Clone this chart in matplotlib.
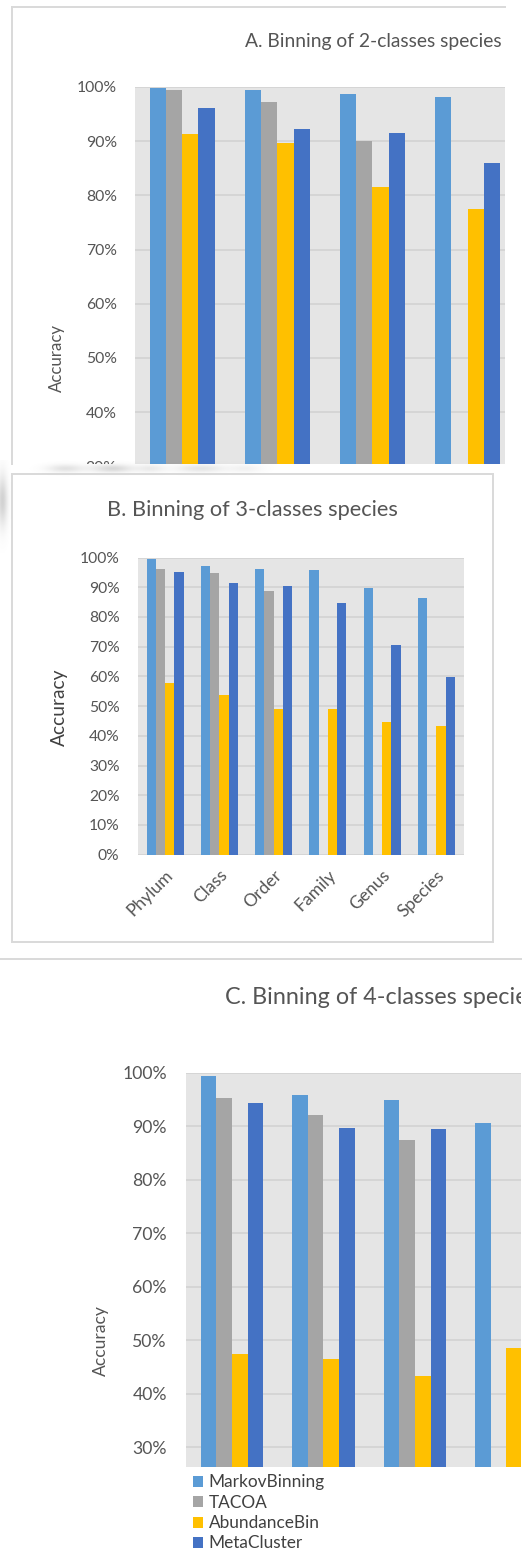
import numpy as np
import matplotlib
matplotlib.use('Agg')
import matplotlib.pyplot as plt
from matplotlib.patches import Rectangle
from matplotlib.lines import Line2D

nan = np.nan

series = ['MarkovBinning', 'TACOA', 'AbundanceBin', 'MetaCluster']
colors = ['#5b9bd5', '#a5a5a5', '#ffc000', '#4472c4']
ranks = ['Phylum', 'Class', 'Order', 'Family', 'Genus', 'Species']

# A. 2-classes species (accuracy, %)
a_markov = [99.8, 99.5, 98.7, 98.2]
a_tacoa = [99.5, 97.2, 90.0, nan]
a_abund = [91.3, 89.6, 81.6, 77.5]
a_meta = [96.1, 92.2, 91.5, 85.9]

# B. 3-classes species
b_markov = [99.5, 97.1, 96.1, 95.8, 89.6, 86.3]
b_tacoa = [96.1, 94.8, 88.7, nan, nan, nan]
b_abund = [57.7, 53.6, 49.0, 48.9, 44.6, 43.3]
b_meta = [95.1, 91.3, 90.6, 84.6, 70.5, 59.8]

# C. 4-classes species
c_markov = [99.3, 95.9, 94.8, 90.5]
c_tacoa = [95.3, 92.1, 87.4, nan]
c_abund = [47.5, 46.5, 43.3, 48.5]
c_meta = [94.3, 89.7, 89.4, nan]

W, H = 528, 1551
GRAY_TXT = '#555555'
FRAME = '#d9d9d9'
plt.rcParams['font.family'] = ['Lato', 'DejaVu Sans']

fig = plt.figure(figsize=(W / 100, H / 100), dpi=100)
renderer = fig.canvas.get_renderer()


def fx(x):
    return x / W


def fy(y):
    return 1 - y / H


def box(l, t, r, b):
    return [l / W, 1 - b / H, (r - l) / W, (b - t) / H]


def fit(text, target_px, **kw):
    t = fig.text(0, 0, text, fontsize=20, **kw)
    w = t.get_window_extent(renderer).width
    t.remove()
    return 20 * target_px / w


def hline(x0, x1, y, **kw):
    fig.add_artist(Line2D([fx(x0), fx(x1)], [fy(y), fy(y)], transform=fig.transFigure, **kw))


def vline(x, y0, y1, **kw):
    fig.add_artist(Line2D([fx(x), fx(x)], [fy(y0), fy(y1)], transform=fig.transFigure, **kw))


def panel(rect, data, ylim, xmax, tick_fs, pad):
    ax = fig.add_axes(rect)
    ax.set_facecolor('#e5e5e5')
    bw = 0.17
    x = np.arange(len(data[0]))
    bars = []
    for i, vals in enumerate(data):
        v = np.array(vals, dtype=float)
        ok = ~np.isnan(v)
        b = ax.bar(x[ok] + (i - 1.5) * bw, v[ok], bw, color=colors[i], zorder=2, label=series[i])
        bars.append(b)
    ax.set_yticks(np.arange(0, 101, 10))
    ax.set_yticklabels([f'{t}%' for t in range(0, 101, 10)])
    ax.set_xticks([])
    ax.set_xlim(-0.5, xmax)
    ax.set_ylim(*ylim)
    ax.yaxis.grid(True, color='#d4d4d4', lw=1.3)
    ax.set_axisbelow(True)
    for s in ax.spines.values():
        s.set_visible(False)
    ax.tick_params(axis='y', length=0, pad=pad, labelsize=tick_fs, labelcolor=GRAY_TXT)
    ax.tick_params(axis='x', length=0)
    return ax, bars


lw_frame = 1.4

# ---- A ----
fs_a = fit('100%', 40)
ax_a, _ = panel(box(134.7, 86.9, 505, 479.9), [a_markov, a_tacoa, a_abund, a_meta],
                (27.5, 100), -0.5 + (505 - 134.7) / 95.1, fs_a, 12.9)
fig.text(fx(501.7), fy(41.4), 'A. Binning of 2-classes species', ha='right', va='center',
         color=GRAY_TXT, fontsize=fit('A. Binning of 2-classes species', 258))
fig.text(fx(57.2), fy(358), 'Accuracy', rotation=90, ha='center', va='center',
         color=GRAY_TXT, fontsize=fit('Accuracy', 68))
vline(12.1, 7, 463.6, color=FRAME, lw=lw_frame, zorder=5)
hline(12.1, 505, 7, color=FRAME, lw=lw_frame, zorder=5)

# white gap where the next chart sits on top
fig.add_artist(Rectangle((0, fy(495)), 1, (495 - 463.6) / H, transform=fig.transFigure,
                         facecolor='white', edgecolor='none', zorder=3))

# grey smear left over between the two charts
yy, xx = np.mgrid[0:100, 0:280].astype(float)
smear = np.zeros_like(xx)
for cx, a, sx in [(65, 0.22, 18), (112, 0.3, 20), (150, 0.15, 14), (200, 0.2, 24), (245, 0.1, 16)]:
    smear += a * np.exp(-((xx - cx) / sx) ** 2) * np.exp(-((yy - 8) / 4) ** 2)
smear += 0.35 * np.exp(-((xx - 2) / 5) ** 2) * np.exp(-((yy - 40) / 25) ** 2)
smear = np.clip(smear, 0, 0.6)
rgba = np.zeros((100, 280, 4))
rgba[..., :3] = 0.5
rgba[..., 3] = smear
ax_s = fig.add_axes(box(0, 460, 280, 560))
ax_s.imshow(rgba, aspect='auto', interpolation='bilinear')
ax_s.axis('off')
ax_s.set_zorder(4)

# ---- B ----
fig.add_artist(Rectangle((fx(12.1), fy(941.5)), (493.3 - 12.1) / W, (941.5 - 474.1) / H,
                         transform=fig.transFigure, facecolor='none', edgecolor=FRAME,
                         lw=lw_frame, zorder=5))
fs_b = fit('100%', 39.7)
ax_b, _ = panel(box(138, 557.6, 463.6, 854.6), [b_markov, b_tacoa, b_abund, b_meta],
                (0, 100), 5.5, fs_b, 13.3)
ax_b.set_xticks(np.arange(len(ranks)))
ax_b.set_xticklabels(ranks, rotation=45, ha='right', rotation_mode='anchor',
                     fontsize=fs_b * 1.12, color=GRAY_TXT)
ax_b.set_xlim(-0.5, 5.5)
ax_b.tick_params(axis='x', pad=9)
fig.text(fx(252.2), fy(510.5), 'B. Binning of 3-classes species', ha='center', va='center',
         color=GRAY_TXT, fontsize=fit('B. Binning of 3-classes species', 290))
fig.text(fx(59), fy(706.8), 'Accuracy', rotation=90, ha='center', va='center',
         color='#404040', fontsize=fit('Accuracy', 77.4))

hline(0, 521, 959.3, color=FRAME, lw=lw_frame, zorder=5)

# ---- C ----
fs_c = fit('100%', 44.8)
ax_c, bars_c = panel(box(186.2, 1072.6, 521, 1466.7), [c_markov, c_tacoa, c_abund, c_meta],
                     (26.4, 100), -0.5 + (521 - 186.2) / 91.5, fs_c, 14)
fig.text(fx(224.6), fy(997.3), 'C. Binning of 4-classes species', ha='left', va='center',
         color=GRAY_TXT, fontsize=fit('C. Binning of 4-classes', 231.6))
fig.text(fx(101), fy(1340.4), 'Accuracy', rotation=90, ha='center', va='center',
         color=GRAY_TXT, fontsize=fit('Accuracy', 71))

fs_leg = fit('MarkovBinning', 115.8)
sq = 10.3 / (fs_leg * 100 / 72)
leg = ax_c.legend(bars_c, series, loc='upper left', bbox_to_anchor=(fx(192.5), fy(1474.5)),
                  bbox_transform=fig.transFigure, frameon=False, fontsize=fs_leg,
                  handlelength=sq, handleheight=sq, handletextpad=0.33,
                  labelspacing=0.25, borderpad=0, borderaxespad=0)
for t in leg.get_texts():
    t.set_color('#404040')

fig.add_artist(Rectangle((fx(521), 0), 1 - fx(521), fy(960), transform=fig.transFigure,
                         facecolor='white', edgecolor='none', zorder=6))

fig.savefig('out.png', dpi=100)
